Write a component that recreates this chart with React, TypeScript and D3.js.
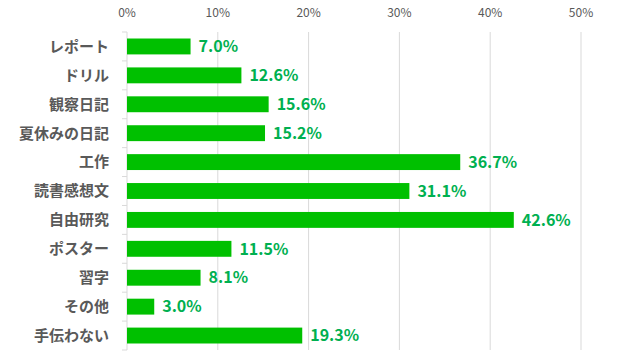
import React, { useEffect, useRef } from 'react';
import * as d3 from 'd3';

const categories = ['レポート', 'ドリル', '観察日記', '夏休みの日記', '工作', '読書感想文', '自由研究', 'ポスター', '習字', 'その他', '手伝わない'];
const values = [7.0, 12.6, 15.6, 15.2, 36.7, 31.1, 42.6, 11.5, 8.1, 3.0, 19.3];
const ticks = [0, 10, 20, 30, 40, 50];

const font = '"Noto Sans CJK JP", "Noto Sans", sans-serif';

const App: React.FC = () => {
  const svgRef = useRef<SVGSVGElement>(null);

  useEffect(() => {
    if (!svgRef.current) return;
    const svg = d3.select(svgRef.current);
    svg.selectAll('*').remove();

    const width = 622;
    const height = 361;
    const margin = { top: 32, right: 41, bottom: 11, left: 127 };

    const x = d3.scaleLinear().domain([0, 50]).range([margin.left, width - margin.right]);
    const y = d3.scaleBand<string>().domain(categories).range([margin.top, height - margin.bottom]).paddingInner(0.45).paddingOuter(0.225);

    // gridlines
    svg.append('g')
      .selectAll('line')
      .data(ticks.slice(1))
      .enter().append('line')
      .attr('x1', d => x(d)).attr('x2', d => x(d))
      .attr('y1', margin.top).attr('y2', height - margin.bottom)
      .attr('stroke', '#d9d9d9').attr('stroke-width', 1);

    // tick labels
    svg.append('g')
      .selectAll('text')
      .data(ticks)
      .enter().append('text')
      .attr('x', d => x(d)).attr('y', 17)
      .attr('text-anchor', 'middle')
      .attr('font-family', font).attr('font-size', 12)
      .attr('fill', '#595959')
      .text(d => `${d}%`);

    // left axis line + ticks
    const step = y.step();
    const axis = svg.append('g');
    axis.append('line')
      .attr('x1', margin.left).attr('x2', margin.left)
      .attr('y1', margin.top).attr('y2', height - margin.bottom)
      .attr('stroke', '#d9d9d9');
    axis.selectAll('line.tick')
      .data(d3.range(categories.length + 1))
      .enter().append('line')
      .attr('class', 'tick')
      .attr('x1', margin.left - 5).attr('x2', margin.left)
      .attr('y1', i => margin.top + i * step).attr('y2', i => margin.top + i * step)
      .attr('stroke', '#d9d9d9');

    // bars
    svg.append('g')
      .selectAll('rect')
      .data(values)
      .enter().append('rect')
      .attr('x', x(0))
      .attr('y', (_, i) => y(categories[i])!)
      .attr('width', d => x(d) - x(0))
      .attr('height', y.bandwidth())
      .attr('fill', '#00c000');

    // value labels
    svg.append('g')
      .selectAll('text')
      .data(values)
      .enter().append('text')
      .attr('x', d => x(d) + 8)
      .attr('y', (_, i) => y(categories[i])! + y.bandwidth() / 2)
      .attr('dy', '0.36em')
      .attr('font-family', font).attr('font-size', 16).attr('font-weight', 'bold')
      .attr('fill', '#00b050')
      .text(d => `${d.toFixed(1)}%`);

    // category labels
    svg.append('g')
      .selectAll('text')
      .data(categories)
      .enter().append('text')
      .attr('x', 109)
      .attr('y', d => y(d)! + y.bandwidth() / 2)
      .attr('dy', '0.36em')
      .attr('text-anchor', 'end')
      .attr('font-family', font).attr('font-size', 15).attr('font-weight', 'bold')
      .attr('fill', '#595959')
      .text(d => d);
  }, []);

  return (
    <svg ref={svgRef} width={622} height={361} style={{ position: 'absolute', left: 0, top: 0, background: '#fff' }} />
  );
};

export default App;
